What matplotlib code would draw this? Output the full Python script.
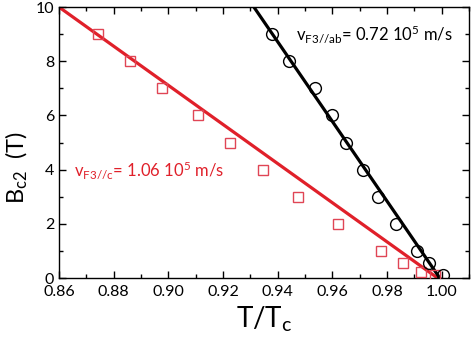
import matplotlib
matplotlib.use("Agg")
import matplotlib.pyplot as plt
from matplotlib.ticker import MultipleLocator, FormatStrFormatter

plt.rcParams['font.family'] = ['Lato', 'DejaVu Sans']
plt.rcParams['mathtext.fontset'] = 'custom'
plt.rcParams['mathtext.rm'] = 'Lato'
plt.rcParams['mathtext.it'] = 'Lato'

# Bc2 along c (squares) and along ab (circles)
t_c = [0.8742, 0.8858, 0.8978, 0.9109, 0.9225, 0.9345, 0.9476, 0.9622, 0.9778, 0.9858, 0.9924, 0.9975]
b_c = [9.0, 8.0, 7.0, 6.0, 5.0, 4.0, 3.0, 2.0, 1.0, 0.55, 0.22, 0.1]
t_ab = [0.9378, 0.9440, 0.9535, 0.9600, 0.9650, 0.9713, 0.9767, 0.9833, 0.9909, 0.9953, 1.0003]
b_ab = [9.0, 8.0, 7.0, 6.0, 5.0, 4.0, 3.0, 2.0, 1.0, 0.55, 0.1]

# linear fits
fit_c_t = [0.86, 0.9985]
fit_c_b = [10.0, 0.0]
fit_ab_t = [0.9313, 0.9993]
fit_ab_b = [10.0, 0.0]

red = '#e0202a'

fig = plt.figure(figsize=(4.74, 3.37), dpi=100)
ax = fig.add_axes([0.1245, 0.175, 0.865, 0.804])

ax.plot(fit_c_t, fit_c_b, color=red, lw=2.3, zorder=2)
ax.plot(fit_ab_t, fit_ab_b, color='black', lw=2.3, zorder=2)
ax.plot(t_c, b_c, 's', mfc='none', mec='#e04555', ms=7.5, mew=1.0, zorder=3)
ax.plot(t_ab, b_ab, 'o', mfc='none', mec='black', ms=8.5, mew=1.0, zorder=3)

ax.set_xlim(0.86, 1.01)
ax.set_ylim(0, 10)
ax.xaxis.set_major_locator(MultipleLocator(0.02))
ax.xaxis.set_minor_locator(MultipleLocator(0.01))
ax.yaxis.set_major_locator(MultipleLocator(2))
ax.yaxis.set_minor_locator(MultipleLocator(1))
ax.xaxis.set_major_formatter(FormatStrFormatter('%.2f'))
ax.tick_params(which='both', direction='in', top=True, right=True, labelsize=11.5)
ax.tick_params(axis='x', pad=5)
ax.tick_params(which='major', length=5, width=1)
ax.tick_params(which='minor', length=3, width=1)
for s in ax.spines.values():
    s.set_linewidth(1.0)

ax.set_xlabel('T/T$_\\mathregular{c}$', fontsize=20, labelpad=4)
ax.set_ylabel('B$_\\mathregular{c2}$  (T)', fontsize=17)
ax.yaxis.set_label_coords(-0.07, 0.41)

ax.text(0.9467, 9.0, r'v$_\mathregular{F3//ab}$= 0.72 10$^\mathregular{5}$ m/s',
        fontsize=12, va='center', ha='left')
ax.text(0.8655, 3.98, r'v$_\mathregular{F3//c}$= 1.06 10$^\mathregular{5}$ m/s',
        fontsize=12, va='center', ha='left', color=red)

fig.savefig('out.png', dpi=100)
